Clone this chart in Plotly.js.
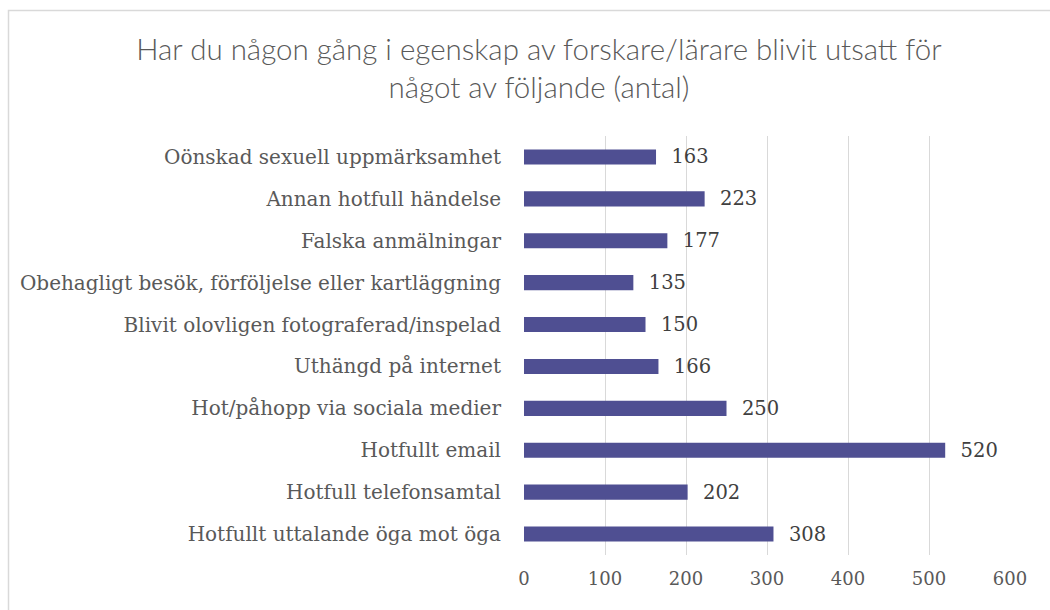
<!DOCTYPE html>
<html>
<head>
<meta charset="utf-8">
<script src="https://cdn.plot.ly/plotly-3.0.1.min.js"></script>
<style>html,body{margin:0;padding:0;background:#fff;}#chart{width:1050px;height:610px;}</style>
</head>
<body>
<div id="chart"></div>
<script>
const categories = [
  "Oönskad sexuell uppmärksamhet",
  "Annan hotfull händelse",
  "Falska anmälningar",
  "Obehagligt besök, förföljelse eller kartläggning",
  "Blivit olovligen fotograferad/inspelad",
  "Uthängd på internet",
  "Hot/påhopp via sociala medier",
  "Hotfullt email",
  "Hotfull telefonsamtal",
  "Hotfullt uttalande öga mot öga"
];
const values = [163, 223, 177, 135, 150, 166, 250, 520, 202, 308];
const tickValues = [0, 100, 200, 300, 400, 500, 600];
const titleText = "Har du någon gång i egenskap av forskare/lärare blivit utsatt för<br>något av följande (antal)";

const serif = "DejaVu Serif, Liberation Serif, serif";

const trace = {
  type: "bar",
  orientation: "h",
  x: values,
  y: categories,
  marker: {color: "#4F4F92"},
  text: values.map(v => "\u00a0\u00a0" + v),
  textposition: "outside",
  constraintext: "none",
  cliponaxis: false,
  textfont: {family: serif, size: 19.5, color: "#404040"},
  hoverinfo: "x+y"
};

const L = 524, R = 1010, T = 136, B = 555;
const layout = {
  width: 1050, height: 610,
  margin: {l: L, r: 1050 - R, t: T, b: 610 - B, pad: 0},
  paper_bgcolor: "#fff", plot_bgcolor: "#fff",
  showlegend: false,
  bargap: 0.64,
  title: {
    text: titleText,
    font: {family: "Lato, Open Sans, sans-serif", size: 29.5, color: "#595959", weight: 300},
    x: 539/1050, xanchor: "center", xref: "container",
    y: 1 - 60/610, yanchor: "top", yref: "container"
  },
  xaxis: {
    range: [0, 600],
    tickvals: tickValues,
    ticktext: tickValues.map(String),
    showgrid: true, gridcolor: "#D9D9D9", gridwidth: 1,
    zeroline: false, showline: false, ticks: "",
    tickfont: {family: serif, size: 18, color: "#595959"},
    ticklabelstandoff: 11,
    fixedrange: true
  },
  yaxis: {
    autorange: "reversed",
    showgrid: false, zeroline: false, showline: false, ticks: "",
    tickfont: {family: serif, size: 20, color: "#595959"},
    ticklabelstandoff: 22,
    fixedrange: true
  },
  shapes: [{
    type: "rect", xref: "paper", yref: "paper",
    x0: (8.5 - L) / (R - L), x1: (1200 - L) / (R - L),
    y0: (B - 800) / (B - T), y1: (B - 10.5) / (B - T),
    line: {color: "#D9D9D9", width: 1.5}, fillcolor: "rgba(0,0,0,0)", layer: "below"
  }]
};

Plotly.newPlot("chart", [trace], layout, {displayModeBar: false, staticPlot: true});
</script>
</body>
</html>
